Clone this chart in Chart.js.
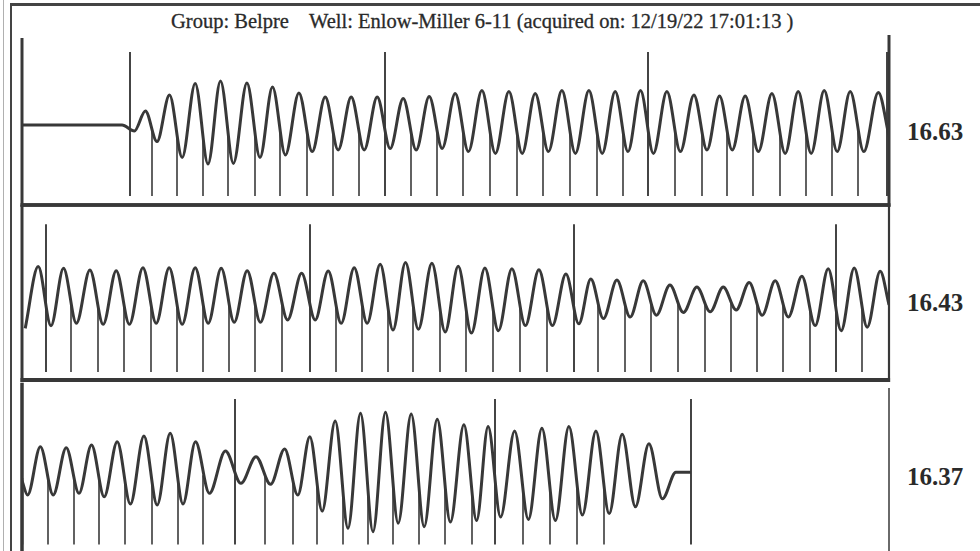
<!DOCTYPE html>
<html>
<head>
<meta charset="utf-8">
<script src="https://cdn.jsdelivr.net/npm/chart.js@4.4.1/dist/chart.umd.min.js"></script>
<style>
  html, body { margin: 0; padding: 0; background: #fff; }
  #page { position: relative; width: 980px; height: 551px; overflow: hidden; background: #fff;
          font-family: "Liberation Serif", "DejaVu Serif", serif; color: #2a2a2a; }
  #page canvas { position: absolute; left: 0; }
  .title { position: absolute; top: 11px; left: 171px; font-size: 20.5px; line-height: 20px; white-space: pre;
           -webkit-text-stroke: 0.3px #2a2a2a; }
  .reading { position: absolute; left: 907px; font-size: 25px; line-height: 25px; font-weight: bold; }
  .rule { position: absolute; background: #444; }
</style>
</head>
<body>
<div id="page">
  <div class="rule" style="left:3px;top:0;width:1px;height:551px;background:#b0b0b0"></div>
  <div class="rule" style="left:10px;top:3px;width:2px;height:548px"></div>
  <div class="rule" style="left:10px;top:3px;width:970px;height:3px"></div>
  <div class="title">Group: Belpre    Well: Enlow-Miller 6-11 (acquired on: 12/19/22 17:01:13 )</div>
  <canvas id="trace1" width="900" height="210" style="top:0"></canvas>
  <canvas id="trace2" width="900" height="185" style="top:200px"></canvas>
  <canvas id="trace3" width="900" height="181" style="top:376px"></canvas>
  <div class="reading" style="top:119px">16.63</div>
  <div class="reading" style="top:290px">16.43</div>
  <div class="reading" style="top:464px">16.37</div>
</div>
<script>
// time axis in seconds, one panel = 86.7 s; load in % of panel height
const span = 86.7;

// panel 1: idle, then pumping starts
const strokes1 = [10.8, 13.0, 15.5, 18.1, 20.6, 23.3, 25.8, 28.5, 31.1, 33.7, 36.3, 38.9, 41.5, 44.1, 46.8,
  49.5, 52.1, 54.8, 57.5, 60.1, 62.6, 65.3, 68.0, 70.5, 73.1, 75.8, 78.4, 81.0, 83.6, 86.5];
const lows1 = [37, 31.7, 23.8, 20.5, 20.8, 23.8, 25, 26.7, 27.5, 27.5, 28.3, 27.5, 28.3, 26.7, 25.8,
  25.8, 26.7, 25.8, 25.8, 26.7, 25.8, 26.7, 27.5, 27.5, 26.7, 25.8, 25.8, 26.7, 26.7, 30];
const highs1 = [47, 55, 60.8, 62, 61, 59, 56, 54, 54, 54, 53.3, 54.2, 55.8, 57.2, 56.7,
  55.8, 57.2, 57.2, 56.7, 57.2, 56.7, 55, 54.5, 54.5, 55.8, 56.7, 57.2, 56.7, 56.3, 56];
const lead1 = [[0, 40], [10.0, 40]];
const tail1 = [];
const long1 = [10.8, 36.3, 62.6, 86.5];
const unmarked1 = [];

// panel 2
const strokes2 = [-0.2, 2.4, 4.9, 7.6, 10.2, 12.9, 15.5, 18.1, 20.7, 23.3, 26.0, 28.8, 31.4, 34.0, 36.6, 39.1, 41.8,
  44.4, 47.1, 49.8, 52.5, 55.2, 57.6, 60.3, 62.9, 65.6, 68.3, 70.9, 73.5, 76.1, 78.8, 81.4, 84.0];
const lows2 = [29.5, 31, 32.4, 31.8, 31.8, 32.4, 31.8, 32.4, 33, 33, 34.3, 34.3, 32.4, 32.4, 28.6, 29, 27.5,
  26.8, 28.2, 31.1, 31.1, 32.1, 35.1, 36, 37, 38.6, 39, 40, 37, 36, 31.1, 28.2, 30.2];
const highs2 = [64.8, 63.8, 62.9, 62.5, 64.2, 64.2, 64.2, 63.8, 62.5, 61, 61, 62.3, 64.2, 66.1, 67.2, 66.7, 65,
  64, 63.6, 63, 60.6, 57.7, 57.1, 56.7, 54.3, 53.1, 53.1, 55.7, 56.7, 59.3, 63.6, 64, 62.2];
const lead2 = [];
const tail2 = [[86.7, 43]];
const long2 = [2.4, 28.8, 55.2, 81.4];
const unmarked2 = [];

// panel 3: pumping stops
const strokes3 = [0.05, 2.6, 5.2, 7.7, 10.3, 13.0, 15.6, 18.1, 21.3, 24.3, 27.1, 29.5, 32.1, 34.6, 37.1, 39.7,
  42.3, 45.0, 47.3, 50.1, 52.8, 55.5, 58.2, 60.8, 63.5];
const lows3 = [33.7, 33.7, 34.7, 32.7, 28.5, 27.9, 28.5, 34.7, 40.5, 39.9, 33.7, 24.4, 14.4, 12.4, 17.3, 15.3,
  18, 18.9, 20.9, 19.5, 18.9, 22.1, 22.9, 26.9, 31.5];
const highs3 = [61.8, 61.2, 62.8, 64.7, 68, 69.6, 64.7, 59.3, 56, 60.5, 67.6, 76.7, 81.2, 81.8, 80.8, 77.7,
  74.5, 73.5, 70.9, 72.5, 73.5, 70.9, 69, 63.5, 47];
const lead3 = [[0, 42]];
const tail3 = [[66.9, 47]];
const long3 = [21.3, 47.3, 66.9];
const unmarked3 = [60.8, 63.5];

const ink = '#383838';

function wavePoints(strokes, lows, highs, lead, tail) {
  const pts = lead.map(([x, y]) => ({ x, y }));
  strokes.forEach((s, i) => {
    const next = i < strokes.length - 1 ? strokes[i + 1] : s + (s - strokes[i - 1]);
    const p = next - s;
    pts.push({ x: s + 0.2 * p, y: lows[i] });
    pts.push({ x: s + 0.7 * p, y: highs[i] });
  });
  tail.forEach(([x, y]) => pts.push({ x, y }));
  return pts;
}

function markPoints(times, bottom, top) {
  const pts = [];
  times.forEach((t, i) => {
    pts.push({ x: t, y: bottom }, { x: t, y: top(t, i) }, { x: t, y: null });
  });
  return pts;
}

const framePlugin = {
  id: 'frame',
  afterDatasetsDraw(chart, args, o) {
    const { ctx, chartArea: a, scales: { y } } = chart;
    ctx.save();
    ctx.strokeStyle = ink;
    const seg = (w, x1, y1, x2, y2) => {
      if (!w) return;
      ctx.lineWidth = w;
      ctx.beginPath(); ctx.moveTo(x1, y1); ctx.lineTo(x2, y2); ctx.stroke();
    };
    seg(o.left, a.left, y.getPixelForValue(o.leftFrom), a.left, a.bottom + (o.bottom ? o.bottom / 2 : 0));
    seg(o.right, a.right, y.getPixelForValue(o.rightFrom), a.right, a.bottom + (o.bottom ? o.bottom / 2 : 0));
    seg(o.top, a.left, a.top, a.right, a.top);
    seg(o.bottom, a.left - (o.left || 0) / 2, a.bottom, a.right + (o.right || 0) / 2, a.bottom);
    ctx.restore();
  }
};

function panel(id, strokes, lows, highs, lead, tail, long, unmarked, cfg) {
  const short = strokes.filter(t => !long.includes(t) && !unmarked.includes(t));
  const shortTop = t => {
    const i = strokes.indexOf(t);
    const prevHigh = i > 0 ? highs[i - 1] : highs[i];
    return lows[i] + 0.35 * (prevHigh - lows[i]);
  };
  new Chart(document.getElementById(id), {
    type: 'line',
    data: {
      datasets: [
        {
          data: wavePoints(strokes, lows, highs, lead, tail),
          borderColor: ink,
          borderWidth: 3,
          pointRadius: 0,
          cubicInterpolationMode: 'monotone'
        },
        {
          data: markPoints(short, cfg.base, shortTop),
          borderColor: '#474747',
          borderWidth: 1.7,
          pointRadius: 0,
          tension: 0
        },
        {
          data: markPoints(long, cfg.base, () => cfg.longTop),
          borderColor: '#3c3c3c',
          borderWidth: 1.9,
          pointRadius: 0,
          tension: 0
        }
      ]
    },
    options: {
      responsive: false,
      animation: false,
      events: [],
      layout: { padding: cfg.padding },
      scales: {
        x: { type: 'linear', min: 0, max: span, display: false },
        y: { min: 0, max: 100, display: false }
      },
      plugins: {
        legend: { display: false },
        tooltip: { enabled: false },
        frame: cfg.frame
      }
    },
    plugins: [framePlugin]
  });
}

panel('trace1', strokes1, lows1, highs1, lead1, tail1, long1, unmarked1, {
  base: 4.5, longTop: 76.5,
  padding: { left: 22, right: 11, top: 5, bottom: 5 },
  frame: { left: 3, leftFrom: 83.5, right: 3, rightFrom: 85, top: 0, bottom: 3.5 }
});
panel('trace2', strokes2, lows2, highs2, lead2, tail2, long2, unmarked2, {
  base: 4.6, longTop: 89,
  padding: { left: 22, right: 11, top: 5, bottom: 5 },
  frame: { left: 3, leftFrom: 100, right: 2.2, rightFrom: 100, top: 3.5, bottom: 4 }
});
panel('trace3', strokes3, lows3, highs3, lead3, tail3, long3, unmarked3, {
  base: 5, longTop: 89.5,
  padding: { left: 22, right: 11, top: 5, bottom: 4 },
  frame: { left: 3.5, leftFrom: 99, right: 1.5, rightFrom: 96, top: 0, bottom: 0 }
});
</script>
</body>
</html>
